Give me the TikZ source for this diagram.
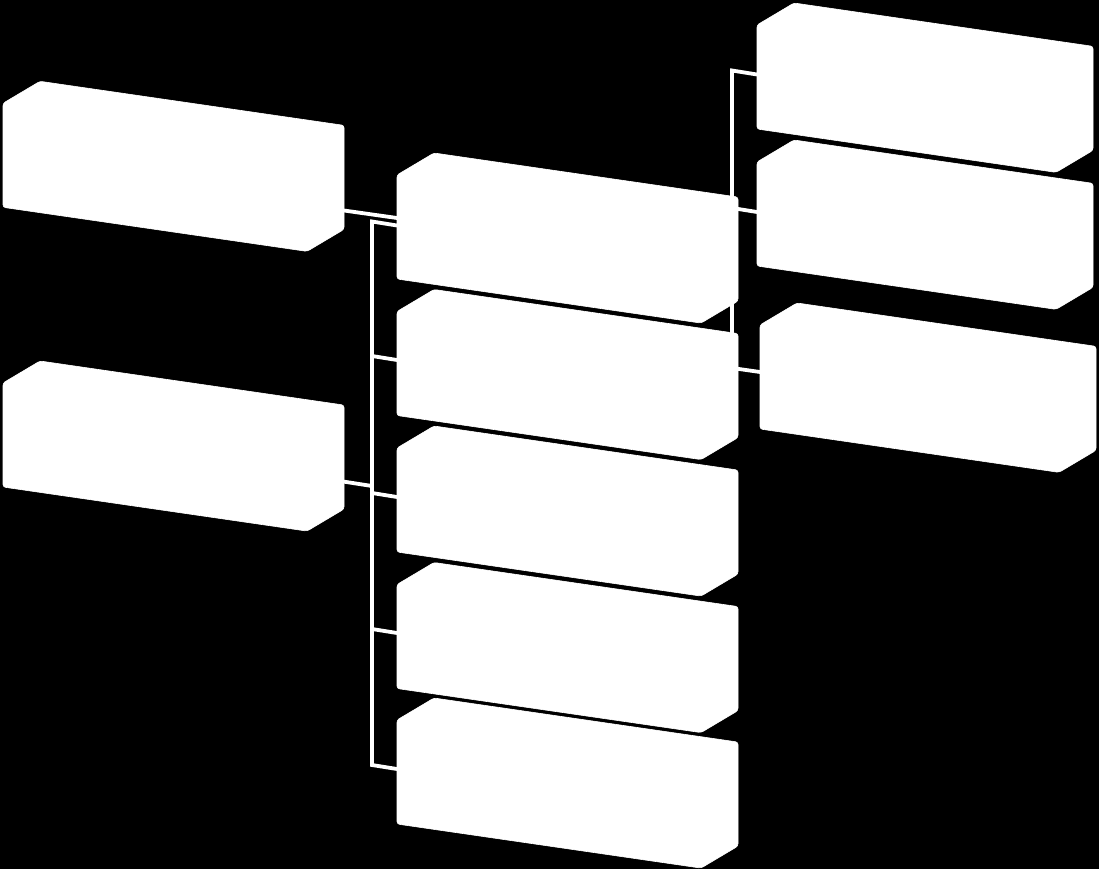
\documentclass[tikz,border=0pt]{standalone}
\tikzset{
  boxshape/.style={fill=white, draw=white, line width=0.6pt, rounded corners=2.5pt, line join=round},
  link/.style={draw=white, line width=3.8pt, line join=miter},
}
\newcommand\skbox[4]{% name, x0, y0, total width
  \coordinate (#1) at (#2,#3);
  \path[boxshape] (#1) -- ++(37,-22) -- ++({#4-37},{0.145*(#4-37)}) -- ++(0,104)
     -- ++(-37,22) -- ++({-(#4-37)},{-0.145*(#4-37)}) -- cycle;
}
\begin{document}
\begin{tikzpicture}[x=1pt,y=-1pt]
\fill[black] (0,0) rectangle (1099,869);
\useasboundingbox (0,0) rectangle (1099,869);
% connection points
\coordinate (L1e) at (344,210.5);
\coordinate (M1a) at (397,218);
\coordinate (LB1) at (372,221.5);
\coordinate (M1w) at (397,225.5);
\coordinate (LB2) at (372,356);
\coordinate (M2w) at (397,360);
\coordinate (L2e) at (343,481.5);
\coordinate (LB3) at (372,486);
\coordinate (LB3b) at (372,493);
\coordinate (M3w) at (397,497);
\coordinate (LB4) at (372,629);
\coordinate (M4w) at (397,633);
\coordinate (LB5) at (372,765);
\coordinate (M5w) at (397,769);
\coordinate (RB1) at (732,70.5);
\coordinate (R1w) at (757,74.5);
\coordinate (RB2) at (732,208);
\coordinate (R2w) at (757,212);
\coordinate (RB3) at (732,368);
\coordinate (R3w) at (760,372);
% connectors
\draw[link] (L1e) -- (M1a);
\draw[link] (M1w) -- (LB1) -- (LB5) -- (M5w);
\draw[link] (LB2) -- (M2w);
\draw[link] (L2e) -- (LB3);
\draw[link] (LB3b) -- (M3w);
\draw[link] (LB4) -- (M4w);
\draw[link] (R1w) -- (RB1) -- (RB3) -- (R3w);
\draw[link] (RB2) -- (R2w);
% boxes
\skbox{L1}{3}{103.3}{341}
\skbox{L2}{3}{383}{341}
\skbox{M1}{397}{175}{341}
\skbox{M2}{397}{311.5}{341}
\skbox{M3}{397}{448}{341}
\skbox{M4}{397}{584.5}{341}
\skbox{M5}{397}{720}{341}
\skbox{R1}{757}{25}{336}
\skbox{R2}{757}{162}{336}
\skbox{R3}{760}{325}{336}
\end{tikzpicture}
\end{document}
